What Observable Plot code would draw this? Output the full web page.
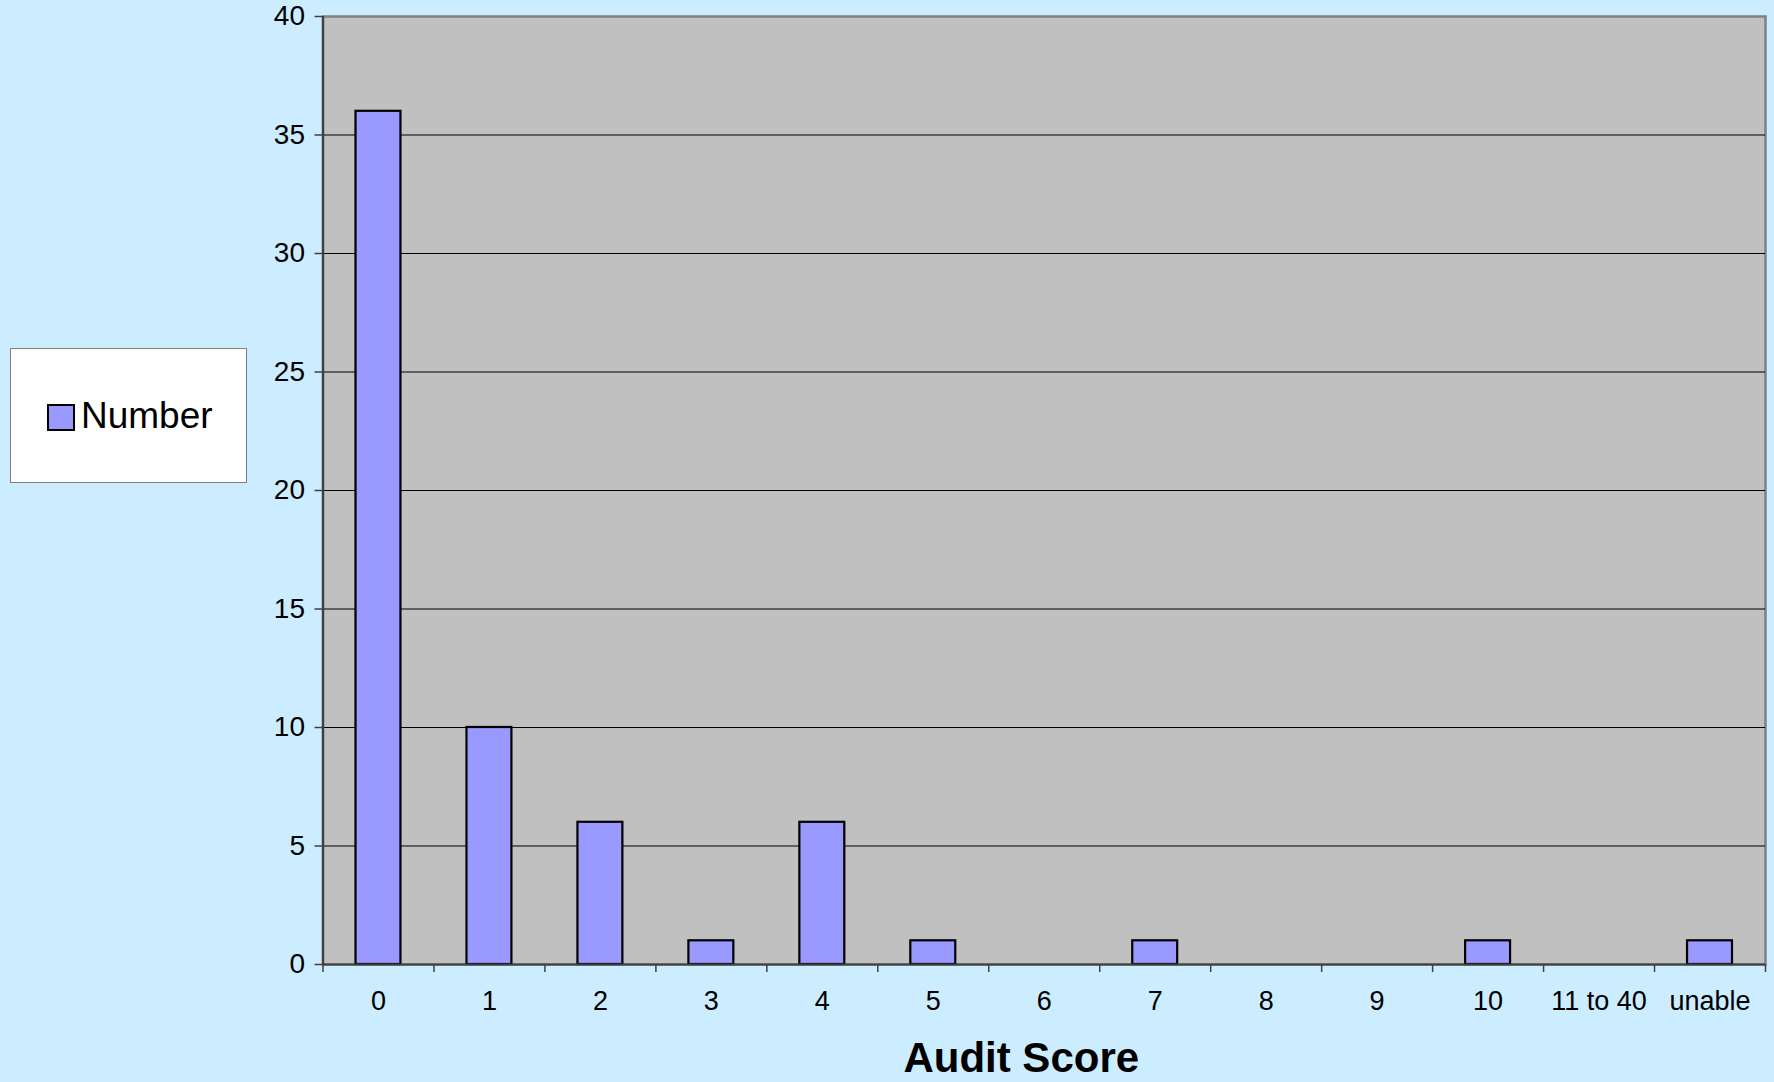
<!DOCTYPE html>
<html>
<head>
<meta charset="utf-8">
<script src="https://cdn.jsdelivr.net/npm/d3@7"></script>
<script src="https://cdn.jsdelivr.net/npm/@observablehq/plot@0.6"></script>
<style>
  html, body { margin: 0; padding: 0; background: #CCECFF; }
  #wrap { position: relative; width: 1774px; height: 1082px; overflow: hidden; font-family: "Liberation Sans", Arial, sans-serif; }
  #legend { position: absolute; left: 10px; top: 348px; width: 235px; height: 133px; background: #fff; border: 1.5px solid #808080; }
  #legend .sw { position: absolute; left: 36px; top: 55px; width: 24px; height: 23px; background: #9999FF; border: 2px solid #000; }
  #legend .lb { position: absolute; left: 70px; top: 45px; font-size: 37px; color: #000; line-height: 44px; }
</style>
</head>
<body>
<div id="wrap">
  <div id="chart"></div>
  <div id="legend"><div class="sw"></div><div class="lb">Number</div></div>
</div>
<script>
const categories = ["0", "1", "2", "3", "4", "5", "6", "7", "8", "9", "10", "11 to 40", "unable"];
const values = [36, 10, 6, 1, 6, 1, 0, 1, 0, 0, 1, 0, 1];
const yTicks = [0, 5, 10, 15, 20, 25, 30, 35, 40];
const gridValues = [5, 10, 15, 20, 25, 30, 35];
const seriesName = "Number";
const xTitle = "Audit Score";

const data = categories.map((c, i) => ({category: c, value: values[i]}));

const W = 1774, H = 1082;
const mL = 322.5, mR = 9, mT = 16, mB = 118;
const bw = (W - mL - mR) / categories.length;

const chart = Plot.plot({
  width: W,
  height: H,
  marginLeft: mL,
  marginRight: mR,
  marginTop: mT,
  marginBottom: mB,
  style: {background: "transparent", fontFamily: "'Liberation Sans', Arial, sans-serif", color: "#000", overflow: "visible"},
  x: {domain: categories, paddingInner: 0.595, paddingOuter: 0.2975, align: 0.5, round: false, label: null},
  y: {domain: [0, 40], label: null},
  marks: [
    Plot.frame({fill: "#C0C0C0", stroke: "#808080", strokeWidth: 2.5}),
    Plot.ruleY(gridValues, {stroke: "#000", strokeWidth: 1.2}),
    Plot.barY(data.filter(d => d.value > 0), {x: "category", y: "value", fill: "#9999FF", stroke: "#000", strokeWidth: 2.2}),
    Plot.ruleY([0], {stroke: "#404040", strokeWidth: 2.2}),
    Plot.ruleX([categories[0]], {x: d => d, dx: -bw / 2, stroke: "#404040", strokeWidth: 2.2, y1: 0, y2: 40}),
    // band boundary ticks
    Plot.ruleX(categories, {x: d => d, dx: -bw / 2, y1: 0, y2: 0, insetBottom: -8, stroke: "#404040", strokeWidth: 1.5}),
    Plot.ruleX([categories[categories.length - 1]], {x: d => d, dx: bw / 2, y1: 0, y2: 0, insetBottom: -8, stroke: "#404040", strokeWidth: 1.5}),
    Plot.axisY(yTicks, {tickSize: 8, tickPadding: 10, fontSize: 28, stroke: "#404040", strokeWidth: 1.5, fill: "#000"}),
    Plot.axisX({tickSize: 0, tickPadding: 26, fontSize: 27, fill: "#000", label: null}),
    Plot.text([xTitle], {frameAnchor: "bottom", dx: -23, dy: 107, text: d => d, fontSize: 42, fontWeight: "bold", fill: "#000", lineAnchor: "bottom"})
  ]
});
document.getElementById("chart").appendChild(chart);
</script>
</body>
</html>
